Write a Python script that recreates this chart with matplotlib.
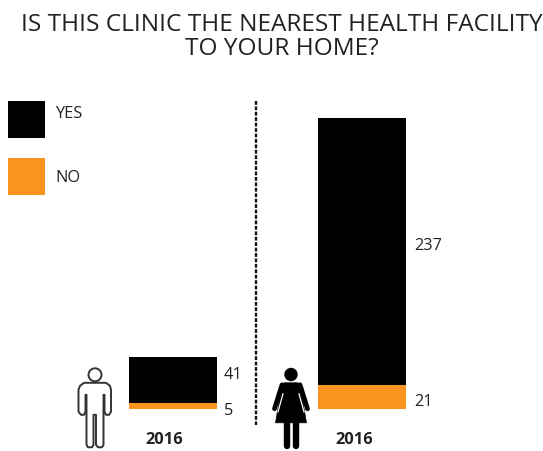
import matplotlib
matplotlib.use("Agg")
import matplotlib.pyplot as plt
from matplotlib.patches import Circle, Polygon, Rectangle

plt.rcParams["font.family"] = ["Open Sans", "DejaVu Sans"]

# data
title = "IS THIS CLINIC THE NEAREST HEALTH FACILITY\nTO YOUR HOME?"
years = ["2016", "2016"]
yes_values = [41, 237]
no_values = [5, 21]
yes_color = "#000000"
no_color = "#F9951E"
text_color = "#222222"

W, H = 543, 452
fig = plt.figure(figsize=(W / 100, H / 100), dpi=100)

# bars: value axis, 1.128 px per unit, zero at pixel row 409
PX = 1.128
ax = fig.add_axes([0, 0, 1, 1])
ax.set_xlim(0, W)
ax.set_ylim(-(H - 409.6) / PX, 409.6 / PX)
ax.axis("off")
centers = [173, 362]
ax.bar(centers, no_values, width=88, color=no_color, linewidth=0)
ax.bar(centers, yes_values, width=88, bottom=no_values, color=yes_color, linewidth=0)

# overlay in pixel coords for everything else
ov = fig.add_axes([0, 0, 1, 1])
ov.set_xlim(0, W)
ov.set_ylim(H - 0.8, -0.8)
ov.axis("off")
ov.patch.set_alpha(0)

ov.text(281.5, 36.5, title, ha="center", va="center", fontsize=17.6, color=text_color,
        linespacing=0.98, clip_on=False)

# legend
ov.add_patch(Rectangle((8, 101), 37, 37, color=yes_color, lw=0))
ov.add_patch(Rectangle((8, 158), 37, 37, color=no_color, lw=0))
ov.text(55, 113, "YES", va="center", fontsize=11.8, color=text_color)
ov.text(55, 177, "NO", va="center", fontsize=11.8, color=text_color)

# divider
ov.plot([256, 256], [101, 425], color="#111111", lw=1.7, dashes=(1.6, 0.7))

# value labels
ov.text(224, 374, str(yes_values[0]), va="center", fontsize=11.8, color=text_color)
ov.text(224, 410, str(no_values[0]), va="center", fontsize=11.8, color=text_color)
ov.text(414, 245, str(yes_values[1]), va="center", fontsize=11.8, color=text_color)
ov.text(414, 401, str(no_values[1]), va="center", fontsize=11.8, color=text_color)

# years
ov.text(164, 439, years[0], ha="center", va="center", fontsize=11.8, fontweight="bold", color=text_color)
ov.text(354, 439, years[1], ha="center", va="center", fontsize=11.8, fontweight="bold", color=text_color)

# male icon (outline)
ov.add_patch(Circle((95, 375), 6.5, fc="white", ec="#333333", lw=1.4))
male = [(84, 383), (106, 383), (110, 386), (111, 390), (111, 412), (109, 415), (106, 415),
        (104.5, 412), (104.5, 395), (103.5, 395), (103.5, 445), (102, 447.5), (98, 447.5), (96, 445),
        (96, 415), (93.5, 415), (93.5, 445), (92, 447.5), (88, 447.5), (86.5, 445), (86.5, 395),
        (85.5, 395), (85.5, 412), (84, 415), (81, 415), (78.5, 412), (78.5, 390), (80, 386)]
ov.add_patch(Polygon(male, closed=True, fc="white", ec="#333333", lw=1.4, joinstyle="round"))

# female icon (solid)
ov.add_patch(Circle((291, 374.7), 6.7, fc="black", lw=0))
dress = [(284, 383), (298, 383), (300, 385), (306.5, 423), (275.5, 423), (282, 385)]
ov.add_patch(Polygon(dress, closed=True, fc="black", ec="black", lw=0.5, joinstyle="round"))
ov.plot([282, 274.5], [385, 409], color="black", lw=3.4, solid_capstyle="round")
ov.plot([300, 307.5], [385, 409], color="black", lw=3.4, solid_capstyle="round")
ov.plot([283, 278], [394, 412], color="white", lw=0.9)
ov.plot([299, 304], [394, 412], color="white", lw=0.9)
ov.plot([286.7, 286.7], [420, 446], color="black", lw=4.6, solid_capstyle="round")
ov.plot([295.5, 295.5], [420, 446], color="black", lw=4.6, solid_capstyle="round")

fig.savefig("out.png", dpi=100)
